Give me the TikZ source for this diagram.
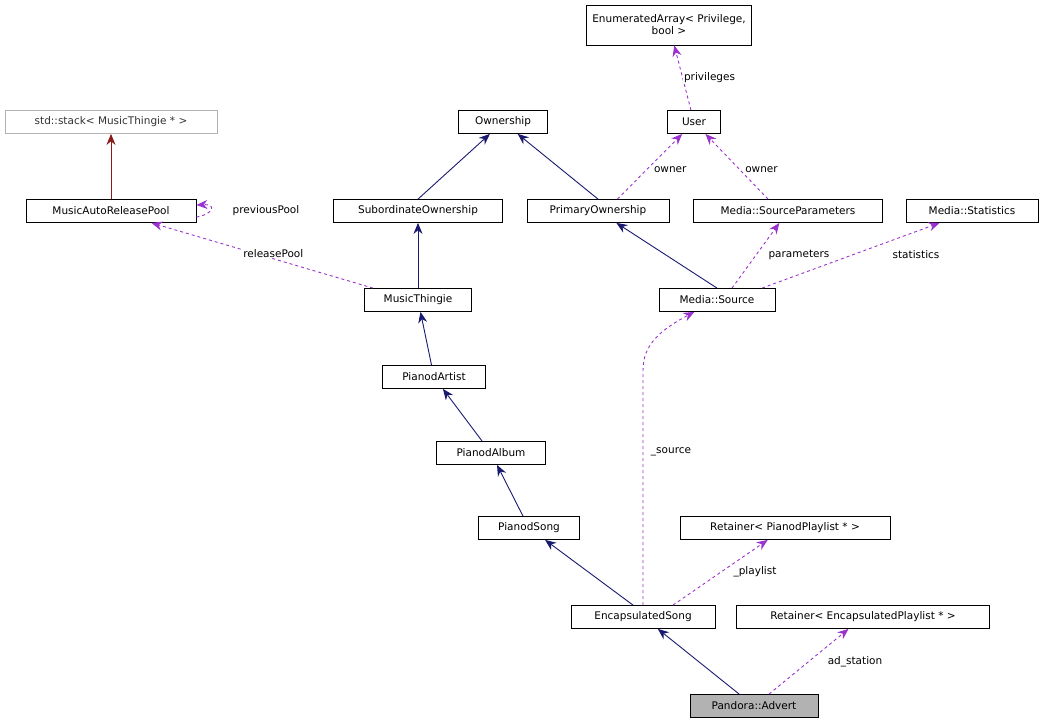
\documentclass[tikz,border=0pt]{standalone}
\usepackage{fontspec}
\setmainfont{DejaVu Sans}
\usetikzlibrary{arrows.meta}
\begin{document}
\begin{tikzpicture}[x=1pt,y=-1pt,
  box/.style={draw,fill=white,line width=0.8pt,minimum height=23pt,inner sep=2pt,font=\fontsize{10.5}{12}\selectfont},
  inh/.style={draw={rgb,255:red,25;green,25;blue,112},line width=0.9pt,-{Stealth[length=11pt,width=9pt]}},
  use/.style={draw={rgb,255:red,154;green,50;blue,205},dashed,line width=0.9pt,-{Stealth[length=11pt,width=9pt]}},
  lbl/.style={font=\fontsize{10.5}{12}\selectfont,fill=white,inner sep=1pt}]
\useasboundingbox (0,0) rectangle (1043,727);
\node[box,minimum width=165pt,minimum height=40pt,align=center] (ea) at (669,25) {EnumeratedArray< Privilege,\\bool >};
\node[box,draw=black!30,minimum width=212pt,text=black!80] (st) at (111,122) {std::stack< MusicThingie * >};
\node[box,minimum width=89pt] (ow) at (503,122) {Ownership};
\node[box,minimum width=53pt] (us) at (694,122) {User};
\node[box,minimum width=170pt] (ma) at (111,211) {MusicAutoReleasePool};
\node[box,minimum width=169pt] (so) at (418,211) {SubordinateOwnership};
\node[box,minimum width=142pt] (po) at (598,211) {PrimaryOwnership};
\node[box,minimum width=189pt] (sp) at (788,211) {Media::SourceParameters};
\node[box,minimum width=132pt] (ms) at (972,211) {Media::Statistics};
\node[box,minimum width=107pt] (mt) at (418,300) {MusicThingie};
\node[box,minimum width=116pt] (src) at (717,300) {Media::Source};
\node[box,minimum width=103pt] (pa) at (434,377) {PianodArtist};
\node[box,minimum width=109pt] (pal) at (491,453) {PianodAlbum};
\node[box,minimum width=101pt] (ps) at (529,528) {PianodSong};
\node[box,minimum width=210pt] (rp) at (785,528) {Retainer< PianodPlaylist * >};
\node[box,minimum width=144pt] (es) at (643,617) {EncapsulatedSong};
\node[box,minimum width=253pt] (re) at (863,617) {Retainer< EncapsulatedPlaylist * >};
\node[box,minimum width=128pt,fill=black!30] (ad) at (754,706) {Pandora::Advert};

\draw[use] (us) -- node[lbl,right,pos=0.5]{privileges} (ea);
\draw[line width=0.9pt,draw={rgb,255:red,139;green,26;blue,26},-{Stealth[length=11pt,width=9pt]}] (ma) -- (st);
\draw[use] (ma.east|-0,217) .. controls (212,215) and (218,204) .. (ma.east|-0,205);
\node[lbl] (pp) at (266,211) {previousPool};
\draw[inh] (so.north) -- (ow);
\draw[inh] (po.north) -- (ow);
\draw[use] (po.north east) ++(-52,0) -- node[lbl,right,pos=0.45,xshift=6pt]{owner} (us);
\draw[use] (sp.north) ++(-20,0) -- node[lbl,right,pos=0.45,xshift=4pt]{owner} (us);
\draw[use] (mt.north) ++(-45,0) -- node[lbl,above,pos=0.45]{releasePool} (ma);
\draw[inh] (mt) -- (so);
\draw[inh] (src.north) -- (po);
\draw[use] (src.north) ++(15,0) -- (sp);
\node[lbl] (pl) at (799,255) {parameters};
\draw[use] (src.north) ++(45,0) -- (ms);
\node[lbl] (sl2) at (916,255) {statistics};
\draw[inh] (pa) -- (mt);
\draw[inh] (pal) -- (pa);
\draw[inh] (ps) -- (pal);
\draw[inh] (es.north) ++(-10,0) -- (ps);
\draw[use] (es.north) -- (643,370) .. controls (643,345) and (660,330) .. (src);
\node[lbl] (sl) at (671,452) {\_source};
\draw[use] (es.north) ++(30,0) -- (rp);
\node[lbl] (plp) at (755,572) {\_playlist};
\draw[inh] (ad) -- (es);
\draw[use] (ad.north) ++(15,0) -- (re);
\node[lbl] (ads) at (855,662) {ad\_station};
\end{tikzpicture}
\end{document}
